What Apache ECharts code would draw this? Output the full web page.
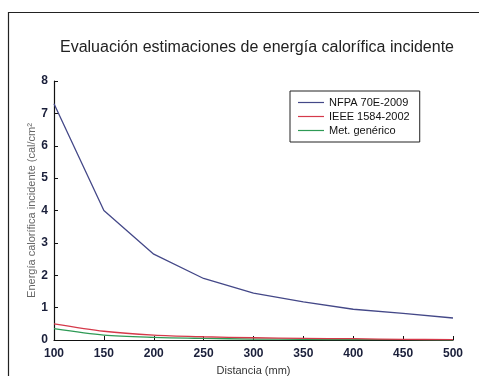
<!DOCTYPE html>
<html><head><meta charset="utf-8">
<script src="https://cdn.jsdelivr.net/npm/echarts@6/dist/echarts.min.js"></script>
<style>html,body{margin:0;padding:0;background:#fff}#c{width:479px;height:376px}</style>
</head><body><div id="c"></div>
<script>
var distances = [100, 150, 200, 250, 300, 350, 400, 450, 500];
var nfpa = [7.3, 4.0, 2.65, 1.9, 1.45, 1.18, 0.95, 0.82, 0.68];
var ieee = [0.5, 0.27, 0.15, 0.1, 0.07, 0.05, 0.04, 0.02, 0.01];
var generico = [0.35, 0.15, 0.08, 0.05, 0.03, 0.02, 0.01, 0.01, 0.0];
var seriesNames = ['NFPA 70E-2009', 'IEEE 1584-2002', 'Met. genérico'];
var colors = ['#444888', '#d5394a', '#2e9a55'];

function pairs(v){ return distances.map(function(d,i){return [d, v[i]];}); }
var chart = echarts.init(document.getElementById('c'), null, {renderer:'canvas'});
var lab = {color:'#1a1f3a', fontFamily:'Liberation Sans, Arial', fontSize:12, fontWeight:'bold'};
chart.setOption({
  animation:false,
  backgroundColor:'#fff',
  graphic:[{type:'rect', shape:{x:8.5,y:12.5,width:480,height:380}, style:{fill:'none', stroke:'#222', lineWidth:1.2}}],
  title:{text:'Evaluación estimaciones de energía calorífica incidente', left:252, top:35, textAlign:'center',
    textStyle:{fontFamily:'Liberation Sans, Arial', fontSize:16, fontWeight:'normal', color:'#222'}},
  grid:{left:54, right:26, top:81, bottom:36, outerBoundsMode:'none', containLabel:false},
  legend:{orient:'vertical', left:290, top:91, width:128, padding:[6,10,6,8], itemGap:3,
    borderColor:'#222', borderWidth:1, itemWidth:26, itemHeight:10,
    icon:'path://M0,4.4 L26,4.4 L26,5.6 L0,5.6 Z',
    textStyle:{fontFamily:'Liberation Sans, Arial', fontSize:11, color:'#111'},
    data:seriesNames},
  xAxis:{type:'value', min:100, max:500, interval:50,
    axisLine:{lineStyle:{color:'#111', width:1.2}},
    axisTick:{inside:true, length:4, lineStyle:{color:'#111'}},
    splitLine:{show:false},
    axisLabel:Object.assign({margin:8}, lab),
    name:'Distancia (mm)', nameLocation:'middle', nameGap:25, nameMoveOverlap:false,
    nameTextStyle:{fontFamily:'Liberation Sans, Arial', fontSize:11, color:'#333'}},
  yAxis:{type:'value', min:0, max:8, interval:1,
    axisLine:{show:true, lineStyle:{color:'#111', width:1.2}},
    axisTick:{show:true, inside:true, length:4, lineStyle:{color:'#111'}},
    splitLine:{show:false},
    axisLabel:Object.assign({margin:6}, lab),
    name:'Energía calorífica incidente (cal/cm²', nameLocation:'middle', nameGap:17, nameMoveOverlap:false,
    nameTextStyle:{fontFamily:'Liberation Sans, Arial', fontSize:11, color:'#666'}},
  series:[nfpa, ieee, generico].map(function(v,i){
    return {name:seriesNames[i], type:'line', data:pairs(v), showSymbol:false, symbol:'none',
      smooth: i>0 ? 0.3 : false,
      lineStyle:{color:colors[i], width:1.3}, itemStyle:{color:colors[i]}, z: 3-i};
  })
});
</script></body></html>
